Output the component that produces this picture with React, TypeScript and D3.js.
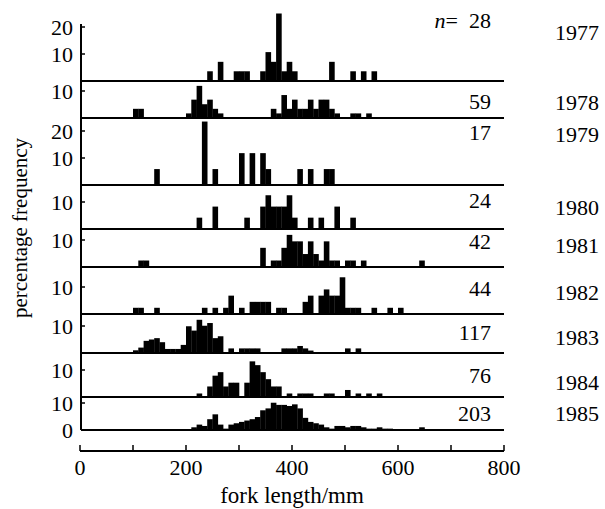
import React, { useEffect, useRef } from "react";
import * as d3 from "d3";

// fork length bins (10 mm wide, by lower edge) and percentage frequency
const f1977 = [[240, 3.6], [260, 7.1], [290, 3.6], [300, 3.6], [310, 3.6], [340, 3.6], [350, 10.7], [360, 7.1], [370, 25.0], [380, 3.6], [390, 7.1], [400, 3.6], [470, 7.1], [510, 3.6], [530, 3.6], [550, 3.6]];
const f1978 = [[100, 3.4], [110, 3.4], [200, 1.7], [210, 6.8], [220, 11.9], [230, 5.1], [240, 6.8], [250, 3.4], [260, 1.7], [360, 3.4], [370, 1.7], [380, 8.5], [390, 3.4], [400, 6.8], [410, 3.4], [420, 3.4], [430, 6.8], [440, 3.4], [450, 6.8], [460, 6.8], [470, 3.4], [480, 1.7], [510, 1.7], [520, 1.7], [540, 1.7]];
const f1979 = [[140, 5.9], [230, 23.5], [250, 5.9], [300, 11.8], [320, 11.8], [340, 11.8], [350, 5.9], [410, 5.9], [430, 5.9], [460, 5.9], [470, 5.9]];
const f1980 = [[220, 4.2], [250, 8.3], [310, 4.2], [340, 8.3], [350, 12.5], [360, 8.3], [370, 8.3], [380, 8.3], [390, 12.5], [400, 4.2], [430, 4.2], [450, 4.2], [480, 8.3], [510, 4.2]];
const f1981 = [[110, 2.4], [120, 2.4], [340, 7.1], [360, 2.4], [370, 2.4], [380, 7.1], [390, 11.9], [400, 9.5], [410, 9.5], [420, 4.8], [430, 9.5], [440, 4.8], [450, 2.4], [460, 9.5], [470, 2.4], [480, 2.4], [500, 2.4], [510, 2.4], [530, 2.4], [640, 2.4]];
const f1982 = [[100, 2.3], [110, 2.3], [140, 2.3], [230, 2.3], [250, 2.3], [270, 2.3], [280, 6.8], [300, 2.3], [320, 4.5], [330, 4.5], [340, 4.5], [350, 4.5], [370, 2.3], [380, 2.3], [420, 4.5], [430, 6.8], [450, 6.8], [460, 9.1], [470, 6.8], [480, 6.8], [490, 13.6], [500, 2.3], [510, 2.3], [520, 2.3], [550, 2.3], [580, 2.3], [600, 2.3]];
const f1983 = [[100, 1.0], [110, 2.0], [120, 4.5], [130, 5.0], [140, 5.5], [150, 4.0], [160, 1.5], [170, 1.5], [180, 1.5], [190, 3.0], [200, 9.9], [210, 8.3], [220, 12.3], [230, 10.1], [240, 11.1], [250, 5.5], [260, 6.2], [280, 1.7], [300, 1.7], [310, 1.7], [320, 1.7], [330, 1.7], [380, 1.7], [390, 1.7], [400, 1.7], [410, 2.6], [420, 1.7], [430, 0.9], [500, 1.7], [520, 1.7]];
const f1984 = [[220, 1.3], [240, 3.9], [250, 7.9], [260, 9.2], [270, 3.9], [280, 5.3], [290, 5.3], [310, 5.3], [320, 13.2], [330, 11.8], [340, 9.2], [350, 6.6], [360, 3.9], [370, 3.9], [390, 1.3], [410, 1.3], [420, 1.3], [430, 1.3], [460, 1.3], [470, 1.3], [500, 2.6], [520, 1.3], [540, 1.3], [560, 1.3]];
const f1985 = [[210, 1.0], [220, 2.0], [230, 1.5], [240, 4.0], [250, 5.8], [260, 2.0], [270, 0.5], [280, 2.0], [290, 2.5], [300, 3.0], [310, 3.5], [320, 4.0], [330, 4.8], [340, 7.3], [350, 8.0], [360, 10.1], [370, 9.3], [380, 9.3], [390, 8.9], [400, 9.5], [410, 8.0], [420, 4.5], [430, 3.0], [440, 2.5], [450, 2.0], [460, 1.0], [470, 0.5], [480, 1.5], [490, 1.5], [500, 1.0], [510, 1.5], [520, 1.5], [530, 1.0], [540, 0.5], [550, 0.5], [560, 1.0], [570, 0.5], [580, 0.5], [640, 1.0]];

const years = ["1977", "1978", "1979", "1980", "1981", "1982", "1983", "1984", "1985"];
const sampleSizes = [28, 59, 17, 24, 42, 44, 117, 76, 203];
const yTicks = [[10, 20], [10], [10, 20], [10], [10], [10], [10], [10], [0, 10]];
const xTicks = [0, 100, 200, 300, 400, 500, 600, 700, 800];
const xTickLabels = [0, 200, 400, 600, 800];

const freqs = [f1977, f1978, f1979, f1980, f1981, f1982, f1983, f1984, f1985];

// layout (pixels)
const baselines = [81, 118, 185, 229, 267, 314, 353, 397, 430];
const panelTop = 24;
const nLabelY = [20, 101, 132, 200, 241, 288, 332, 375, 413];
const yearLabelY = [32, 102, 134, 207, 245, 292, 337, 382, 413];
const binWidth = 10;
const font = "Liberation Serif";
const fontSize = 22;

export default function App() {
  const svgRef = useRef<SVGSVGElement>(null);

  useEffect(() => {
    const svg = d3.select(svgRef.current);
    svg.selectAll("*").remove();

    const x = d3.scaleLinear().domain([0, 800]).range([80, 504]);
    const axisX = 81;

    years.forEach((year, i) => {
      const base = baselines[i];
      const top = i === 0 ? panelTop : baselines[i - 1];
      const y = d3.scaleLinear().domain([0, 10]).range([base, base - 27]);
      const g = svg.append("g");

      g.selectAll("rect")
        .data(freqs[i])
        .enter()
        .append("rect")
        .attr("x", (d) => x(d[0]))
        .attr("y", (d) => y(d[1]))
        .attr("width", x(binWidth) - x(0) + 0.3)
        .attr("height", (d) => base - y(d[1]))
        .attr("fill", "#000");

      // baseline
      g.append("line")
        .attr("x1", axisX)
        .attr("x2", x(800))
        .attr("y1", base)
        .attr("y2", base)
        .attr("stroke", "#000")
        .attr("stroke-width", 2);

      // y axis
      g.append("line")
        .attr("x1", axisX)
        .attr("x2", axisX)
        .attr("y1", top)
        .attr("y2", base)
        .attr("stroke", "#000")
        .attr("stroke-width", 2);

      yTicks[i].forEach((t) => {
        if (t > 0) {
          g.append("line")
            .attr("x1", axisX)
            .attr("x2", axisX + 4)
            .attr("y1", y(t))
            .attr("y2", y(t))
            .attr("stroke", "#000")
            .attr("stroke-width", 1.5);
        }
        g.append("text")
          .attr("x", 73)
          .attr("y", y(t))
          .attr("dy", "0.35em")
          .attr("text-anchor", "end")
          .attr("font-family", font)
          .attr("font-size", fontSize)
          .text(t);
      });

      const nText = g
        .append("text")
        .attr("x", 491)
        .attr("y", nLabelY[i])
        .attr("dy", "0.35em")
        .attr("text-anchor", "end")
        .attr("font-family", font)
        .attr("font-size", fontSize);
      if (i === 0) {
        nText.append("tspan").attr("font-style", "italic").text("n");
        nText.append("tspan").text("=\u2002" + sampleSizes[i]);
      } else {
        nText.text(sampleSizes[i]);
      }

      g.append("text")
        .attr("x", 555)
        .attr("y", yearLabelY[i])
        .attr("dy", "0.35em")
        .attr("font-family", font)
        .attr("font-size", fontSize)
        .text(year);
    });

    // x axis
    const ax = svg.append("g");
    ax.append("line")
      .attr("x1", x(0))
      .attr("x2", x(800))
      .attr("y1", 451)
      .attr("y2", 451)
      .attr("stroke", "#000")
      .attr("stroke-width", 2);
    ax.selectAll("line.tick")
      .data(xTicks)
      .enter()
      .append("line")
      .attr("class", "tick")
      .attr("x1", (d) => x(d))
      .attr("x2", (d) => x(d))
      .attr("y1", 451)
      .attr("y2", 445)
      .attr("stroke", "#000")
      .attr("stroke-width", 1.5);
    ax.selectAll("text")
      .data(xTickLabels)
      .enter()
      .append("text")
      .attr("x", (d) => x(d))
      .attr("y", 467)
      .attr("dy", "0.35em")
      .attr("text-anchor", "middle")
      .attr("font-family", font)
      .attr("font-size", fontSize)
      .text((d) => d);

    svg.append("text")
      .attr("x", x(400))
      .attr("y", 495)
      .attr("dy", "0.35em")
      .attr("text-anchor", "middle")
      .attr("font-family", font)
      .attr("font-size", 23)
      .text("fork length/mm");

    svg.append("text")
      .attr("transform", "translate(20,228) rotate(-90)")
      .attr("dy", "0.35em")
      .attr("text-anchor", "middle")
      .attr("font-family", font)
      .attr("font-size", 21)
      .text("percentage frequency");
  }, []);

  return (
    <svg
      ref={svgRef}
      width={605}
      height={509}
      style={{ position: "absolute", left: 0, top: 0, background: "#fff" }}
    ></svg>
  );
}
